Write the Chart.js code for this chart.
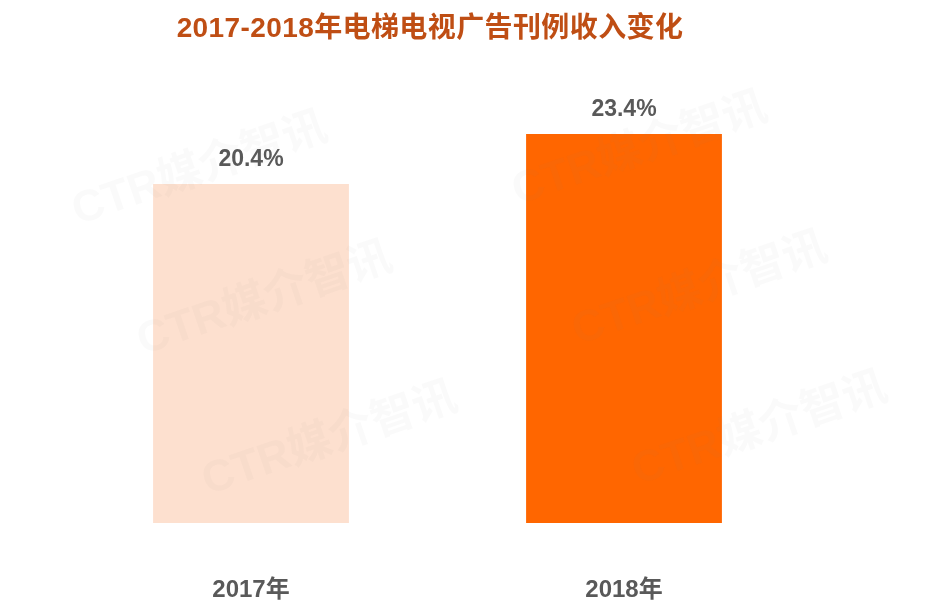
<!DOCTYPE html>
<html>
<head>
<meta charset="utf-8">
<script src="https://cdn.jsdelivr.net/npm/chart.js@4"></script>
<style>
  html,body{margin:0;padding:0;background:#fff;}
  #wrap{position:relative;width:944px;height:605px;}
  #title{position:absolute;left:0;top:14px;width:860px;text-align:center;font-family:"Liberation Sans","Noto Sans CJK SC",sans-serif;font-weight:bold;font-size:28px;line-height:28px;color:#BF4E14;letter-spacing:0.4px;}
  canvas{position:absolute;left:0;top:0;}
</style>
</head>
<body>
<div id="wrap">
  <canvas id="c" width="944" height="605"></canvas>
  <div id="title">2017-2018年电梯电视广告刊例收入变化</div>
</div>
<script>
const categories = ["2017年", "2018年"];
const values = [20.4, 23.4];
const barColors = ["#FDE0CF", "#FF6600"];
const watermark = "CTR媒介智讯";

const labelPlugin = {
  id: 'labels',
  afterDatasetsDraw(chart) {
    const ctx = chart.ctx;
    const meta = chart.getDatasetMeta(0);
    ctx.save();
    ctx.font = 'bold 23px "Liberation Sans", "Noto Sans CJK SC", sans-serif';
    ctx.fillStyle = '#595959';
    ctx.textAlign = 'center';
    ctx.textBaseline = 'middle';
    meta.data.forEach((bar, i) => {
      ctx.fillText(values[i].toFixed(1) + '%', bar.x, bar.y - 24);
    });
    // faint watermark
    ctx.font = 'bold 44px "Liberation Sans", "Noto Sans CJK SC", sans-serif';
    ctx.fillStyle = 'rgba(120,120,140,0.04)';
    const spots = [[200,170],[640,150],[265,300],[700,290],[330,440],[760,430]];
    spots.forEach(([x,y]) => {
      ctx.save();
      ctx.translate(x,y);
      ctx.rotate(-0.33);
      ctx.fillText(watermark, 0, 0);
      ctx.restore();
    });
    ctx.restore();
  }
};

new Chart(document.getElementById('c'), {
  type: 'bar',
  data: {
    labels: categories,
    datasets: [{
      data: values,
      backgroundColor: barColors,
      borderWidth: 0,
      barPercentage: 1,
      categoryPercentage: 0.525
    }]
  },
  options: {
    responsive: false,
    animation: false,
    devicePixelRatio: 1,
    layout: { padding: { left: 64.5, right: 133.5, top: 107.5, bottom: 0 } },
    plugins: { legend: { display: false }, tooltip: { enabled: false }, title: { display: false } },
    scales: {
      x: {
        grid: { display: false, drawTicks: false },
        border: { display: false },
        afterFit(scale) { scale.height = 82; },
        ticks: {
          padding: 52.6,
          color: '#595959',
          font: { family: '"Liberation Sans", "Noto Sans CJK SC", sans-serif', size: 24, weight: 'bold' }
        }
      },
      y: { display: false, min: 0, max: 25 }
    }
  },
  plugins: [labelPlugin]
});
</script>
</body>
</html>
